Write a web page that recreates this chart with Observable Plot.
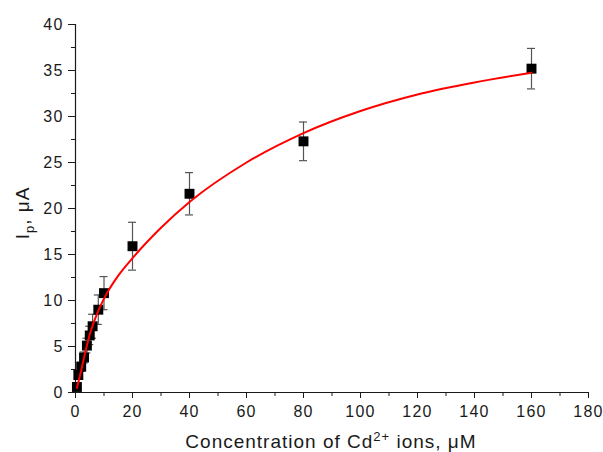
<!DOCTYPE html>
<html>
<head>
<meta charset="utf-8">
<script src="https://cdn.jsdelivr.net/npm/d3@7"></script>
<script src="https://cdn.jsdelivr.net/npm/@observablehq/plot@0.6"></script>
<style>
  html, body { margin: 0; padding: 0; background: #fff; }
  #chart { width: 603px; height: 452px; }
</style>
</head>
<body>
<div id="chart"></div>
<script>
// Measured points (Cd2+ concentration, µM) and peak current Ip (µA)
const conc   = [0.5, 1, 2, 3, 4, 5, 6, 8, 10, 20, 40, 80, 160];
const ip     = [0.6, 1.9, 2.8, 3.8, 5.1, 6.2, 7.2, 9.0, 10.8, 15.9, 21.6, 27.3, 35.2];
const ipErr  = [0.3, 0.4, 0.5, 0.6, 0.8, 1.0, 1.3, 1.6, 1.8, 2.6, 2.3, 2.1, 2.2];

// Fitted curve
const fitX = [0.5, 2, 3.3, 5, 7.5, 10, 15, 20, 30, 40, 60, 80, 100, 120, 140, 160];
const fitY = [0.5, 2.4, 4.2, 6.3, 8.5, 10.2, 12.7, 14.6, 17.9, 20.7, 25.0, 28.2, 30.6, 32.4, 33.7, 34.75];

// Tick values
const xMajor = [0, 20, 40, 60, 80, 100, 120, 140, 160, 180];
const xMinor = [10, 30, 50, 70, 90, 110, 130, 150, 170];
const yMajor = [0, 5, 10, 15, 20, 25, 30, 35, 40];
const yMinor = [2.5, 7.5, 12.5, 17.5, 22.5, 27.5, 32.5, 37.5];

const points = conc.map((c, i) => ({x: c, y: ip[i], lo: ip[i] - ipErr[i], hi: ip[i] + ipErr[i]}));
const fit = fitX.map((x, i) => ({x, y: fitY[i]}));

const ink = "#1a1a1a";
const barColor = "#555";

const plot = Plot.plot({
  width: 603,
  height: 452,
  marginLeft: 75,
  marginRight: 15,
  marginTop: 24,
  marginBottom: 60,
  style: {fontFamily: "'Liberation Sans', Arial, sans-serif", fontSize: "16px", color: ink, background: "#fff", overflow: "visible", letterSpacing: "1.2px"},
  x: {domain: [0, 180], label: null},
  y: {domain: [0, 40], label: null},
  marks: [
    Plot.axisX({ticks: xMajor, tickSize: 6, tickPadding: 7, tickFormat: d => String(d), label: null}),
    Plot.axisX({ticks: xMinor, tickSize: 4, text: null, label: null}),
    Plot.axisY({ticks: yMajor, tickSize: 7, tickPadding: 5, tickFormat: d => String(d), label: null}),
    Plot.axisY({ticks: yMinor, tickSize: 4, text: null, label: null}),
    Plot.ruleY([0], {stroke: ink, strokeWidth: 1.2}),
    Plot.ruleX([0], {stroke: ink, strokeWidth: 1.2}),
    // error bars
    Plot.ruleX(points, {x: "x", y1: "lo", y2: "hi", stroke: barColor, strokeWidth: 1.2}),
    Plot.ruleY(points, {x1: "x", x2: "x", y: "hi", stroke: barColor, strokeWidth: 1.2, insetLeft: -4, insetRight: -4}),
    Plot.ruleY(points, {x1: "x", x2: "x", y: "lo", stroke: barColor, strokeWidth: 1.2, insetLeft: -4, insetRight: -4}),
    // data squares
    Plot.dot(points, {x: "x", y: "y", symbol: "square", r: 5.6, fill: "#000", stroke: "none"}),
    // fitted curve
    Plot.line(fit, {x: "x", y: "y", stroke: "#ff0000", strokeWidth: 2, curve: "monotone-x"})
  ]
});

document.getElementById("chart").appendChild(plot);

// Axis titles with sub/superscripts
const svg = d3.select(plot);
const xt = svg.append("text")
  .attr("x", 331).attr("y", 448)
  .attr("text-anchor", "middle")
  .attr("fill", ink)
  .style("font-size", "19px")
  .style("letter-spacing", "1px");
xt.append("tspan").text("Concentration of Cd");
xt.append("tspan").attr("dy", "-7").style("font-size", "13px").text("2+");
xt.append("tspan").attr("dy", "7").text(" ions, μM");

const yt = svg.append("text")
  .attr("transform", "translate(29,213) rotate(-90)")
  .attr("text-anchor", "middle")
  .attr("fill", ink)
  .style("font-size", "19px")
  .style("letter-spacing", "1px");
yt.append("tspan").text("I");
yt.append("tspan").attr("dy", "5").style("font-size", "13px").text("p");
yt.append("tspan").attr("dy", "-5").text(", μA");
</script>
</body>
</html>
